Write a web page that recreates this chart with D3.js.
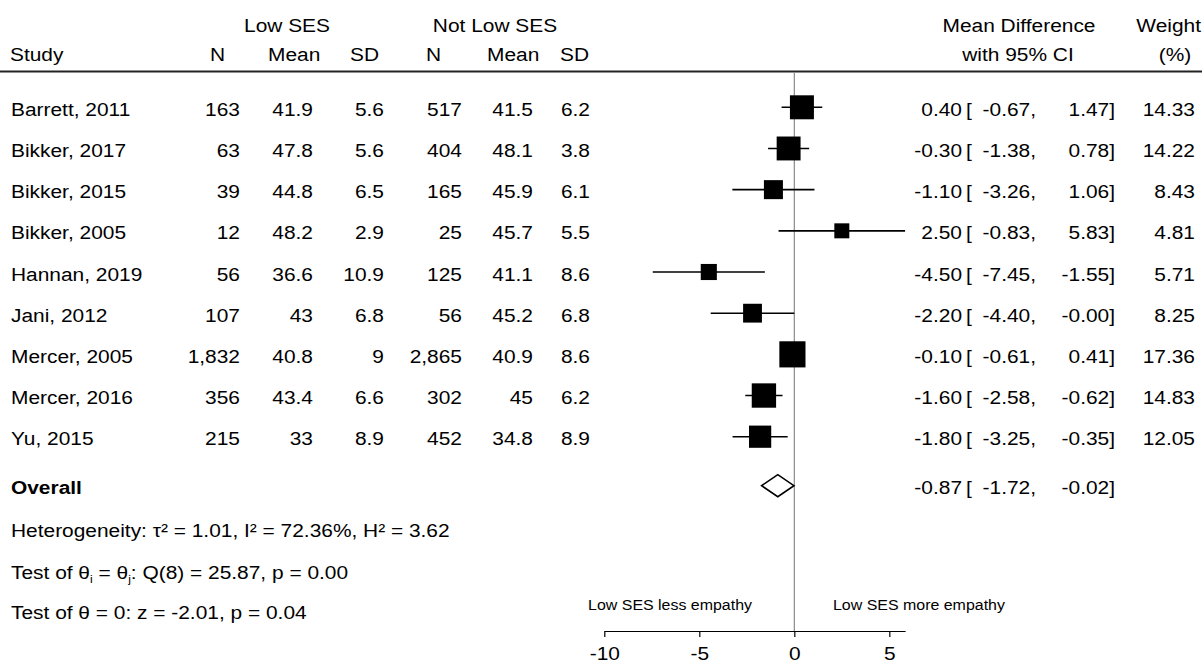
<!DOCTYPE html>
<html>
<head>
<meta charset="utf-8">
<script src="https://cdn.jsdelivr.net/npm/d3@7"></script>
<style>
  html, body { margin: 0; padding: 0; background: #fff; }
  svg { display: block; }
  text { font-family: "Liberation Sans", Arial, Helvetica, sans-serif; fill: #000; }
</style>
</head>
<body>
<svg id="chart" width="1202" height="662"></svg>
<script>
// ---------------- data ----------------
const studies  = ["Barrett, 2011","Bikker, 2017","Bikker, 2015","Bikker, 2005","Hannan, 2019","Jani, 2012","Mercer, 2005","Mercer, 2016","Yu, 2015"];
const lowN     = [163, 63, 39, 12, 56, 107, 1832, 356, 215];
const lowMean  = [41.9, 47.8, 44.8, 48.2, 36.6, 43, 40.8, 43.4, 33];
const lowSD    = [5.6, 5.6, 6.5, 2.9, 10.9, 6.8, 9, 6.6, 8.9];
const notN     = [517, 404, 165, 25, 125, 56, 2865, 302, 452];
const notMean  = [41.5, 48.1, 45.9, 45.7, 41.1, 45.2, 40.9, 45, 34.8];
const notSD    = [6.2, 3.8, 6.1, 5.5, 8.6, 6.8, 8.6, 6.2, 8.9];
const md       = [0.40, -0.30, -1.10, 2.50, -4.50, -2.20, -0.10, -1.60, -1.80];
const ciLow    = [-0.67, -1.38, -3.26, -0.83, -7.45, -4.40, -0.61, -2.58, -3.25];
const ciHigh   = [1.47, 0.78, 1.06, 5.83, -1.55, -0.00, 0.41, -0.62, -0.35];
const weight   = [14.33, 14.22, 8.43, 4.81, 5.71, 8.25, 17.36, 14.83, 12.05];
const overallMD = -0.87, overallLow = -1.72, overallHigh = -0.02;
const xTicks   = [-10, -5, 0, 5];

// ---------------- layout ----------------
const svg = d3.select("#chart");
const SX = 1.1;          // horizontal glyph stretch of the original rendering
const FS = 19;

const x = d3.scaleLinear().domain([-10, 5.83]).range([604.3, 905.1]);
const yRow = d3.scaleLinear().domain([0, 8]).range([107.3, 436.7]);
const yOverall = 485.7;
const yStats = [528, 570, 610];
const sizeScale = d3.scaleLinear().domain([0, 1]).range([2.6, 8.25]); // side vs sqrt(weight)
const BASE = 8.5;

function fmt2(v) {
  const neg = v < 0 || Object.is(v, -0);
  return (neg ? "-" : "") + Math.abs(v).toFixed(2);
}
const fmtN = d3.format(",");

function txt(g, xx, yy, str, anchor, size, weightStr) {
  return g.append("text")
    .attr("transform", `translate(${xx},${yy}) scale(${SX},1)`)
    .attr("text-anchor", anchor || "start")
    .style("font-size", (size || FS) + "px")
    .style("font-weight", weightStr || "normal")
    .text(str);
}

const g = svg.append("g");

// ---------------- header ----------------
const hY1 = 32, hY2 = 61;
txt(g, 287, hY1, "Low SES", "middle");
txt(g, 495, hY1, "Not Low SES", "middle");
txt(g, 1019, hY1, "Mean Difference", "middle");
txt(g, 1201, hY1, "Weight", "end");
txt(g, 10, hY2, "Study", "start");
[["N",210],["Mean",268],["SD",350],["N",426],["Mean",487],["SD",560]].forEach(d => txt(g, d[1], hY2, d[0], "start"));
txt(g, 1018, hY2, "with 95% CI", "middle");
txt(g, 1175, hY2, "(%)", "middle");

g.append("line").attr("x1", 0).attr("x2", 1202).attr("y1", 71.5).attr("y2", 71.5)
  .attr("stroke", "#222").attr("stroke-width", 2);

// zero line
g.append("line").attr("x1", x(0)).attr("x2", x(0)).attr("y1", 72.5).attr("y2", 631)
  .attr("stroke", "#8a8a8a").attr("stroke-width", 1.2);

// ---------------- study rows ----------------
studies.forEach((s, i) => {
  const yy = yRow(i), by = yy + BASE;
  txt(g, 11, by, s, "start");
  txt(g, 240, by, fmtN(lowN[i]), "end");
  txt(g, 313, by, String(lowMean[i]), "end");
  txt(g, 384, by, String(lowSD[i]), "end");
  txt(g, 462, by, fmtN(notN[i]), "end");
  txt(g, 533, by, String(notMean[i]), "end");
  txt(g, 590, by, String(notSD[i]), "end");
  txt(g, 962, by, fmt2(md[i]), "end");
  txt(g, 966, by, "[", "start");
  txt(g, 1036, by, fmt2(ciLow[i]) + ",", "end");
  txt(g, 1115, by, fmt2(ciHigh[i]) + "]", "end");
  txt(g, 1195, by, weight[i].toFixed(2), "end");

  g.append("line").attr("x1", x(ciLow[i])).attr("x2", x(ciHigh[i]))
    .attr("y1", yy).attr("y2", yy).attr("stroke", "#000").attr("stroke-width", 1.6);
  const side = sizeScale(Math.sqrt(weight[i]));
  g.append("rect").attr("x", x(md[i]) - side / 2).attr("y", yy - side / 2)
    .attr("width", side).attr("height", side).attr("fill", "#000");
});

// ---------------- overall ----------------
txt(g, 11, yOverall + BASE, "Overall", "start", FS, "bold");
txt(g, 962, yOverall + BASE, fmt2(overallMD), "end");
txt(g, 966, yOverall + BASE, "[", "start");
txt(g, 1036, yOverall + BASE, fmt2(overallLow) + ",", "end");
txt(g, 1115, yOverall + BASE, fmt2(overallHigh) + "]", "end");
const dh = 11;
g.append("path")
  .attr("d", d3.line()([[x(overallLow), yOverall], [x(overallMD), yOverall - dh], [x(overallHigh), yOverall], [x(overallMD), yOverall + dh]]) + "Z")
  .attr("fill", "#fff").attr("stroke", "#000").attr("stroke-width", 1.6);

// ---------------- statistics lines ----------------
const t1 = g.append("text").attr("transform", `translate(11,${yStats[0] + BASE}) scale(${SX},1)`).style("font-size", FS + "px");
t1.text("Heterogeneity: \u03C4\u00B2 = 1.01, I\u00B2 = 72.36%, H\u00B2 = 3.62");

const t2 = g.append("text").attr("transform", `translate(11,${yStats[1] + BASE}) scale(${SX},1)`).style("font-size", FS + "px");
t2.append("tspan").text("Test of \u03B8");
t2.append("tspan").attr("dy", 4).style("font-size", "11px").text("i");
t2.append("tspan").attr("dy", -4).text(" = \u03B8");
t2.append("tspan").attr("dy", 4).style("font-size", "11px").text("j");
t2.append("tspan").attr("dy", -4).text(": Q(8) = 25.87, p = 0.00");

txt(g, 11, yStats[2] + BASE, "Test of \u03B8 = 0: z = -2.01, p = 0.04", "start");

// ---------------- favour labels ----------------
txt(g, 752, 609.5, "Low SES less empathy", "end", 14.5);
txt(g, 833, 609.5, "Low SES more empathy", "start", 14.5);

// ---------------- axis ----------------
const axis = d3.axisBottom(x).tickValues(xTicks).tickSize(6).tickSizeOuter(0)
  .tickFormat(d => (d < 0 ? "-" : "") + Math.abs(d));
const ax = svg.append("g").attr("transform", "translate(0,631)").call(axis);
ax.select(".domain").attr("stroke", "#000").attr("stroke-width", 1.2);
ax.selectAll(".tick line").attr("stroke", "#000").attr("stroke-width", 1.2);
ax.selectAll(".tick text")
  .attr("y", 0).attr("dy", null)
  .attr("transform", `translate(0,28.5) scale(${SX},1)`)
  .style("font-size", FS + "px")
  .style("font-family", '"Liberation Sans", Arial, Helvetica, sans-serif')
  .attr("fill", "#000");
</script>
</body>
</html>
